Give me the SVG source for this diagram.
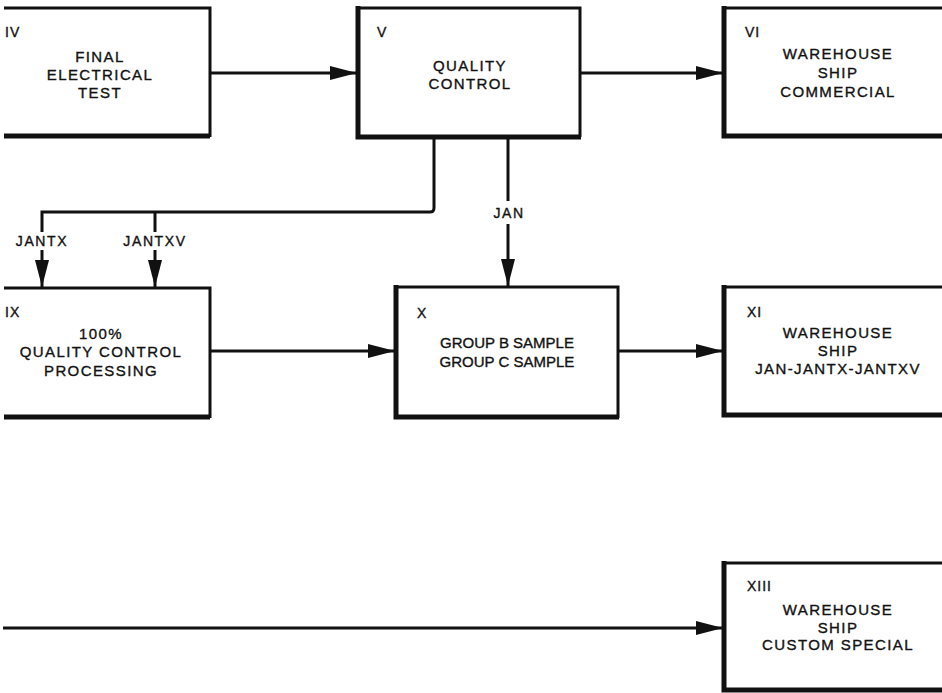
<svg xmlns="http://www.w3.org/2000/svg" width="942" height="693" viewBox="0 0 942 693">
  <defs>
    <marker id="ah" markerUnits="userSpaceOnUse" markerWidth="30" markerHeight="18" refX="27" refY="8" orient="auto">
      <path d="M0,1 L27,8 L0,15 Z" fill="#111"/>
    </marker>
    <style>
      .bg { fill: #fff; }
      .thin { fill: none; stroke: #111; stroke-width: 3; }
      .thick { fill: none; stroke: #111; stroke-width: 5; }
      .wire { fill: none; stroke: #111; stroke-width: 3; }
      .arrow { fill: none; stroke: #111; stroke-width: 3; marker-end: url(#ah); }
      text { font-family: "Liberation Sans", Arial, sans-serif; fill: #111; stroke: #111; stroke-width: 0.35; }
      .num { font-size: 14px; letter-spacing: 1px; }
      .lbl { font-size: 15px; letter-spacing: 1.4px; text-anchor: middle; }
      .tight { font-size: 15px; letter-spacing: 0px; text-anchor: middle; }
      .tag { font-size: 14px; letter-spacing: 1.6px; text-anchor: middle; }
    </style>
  </defs>

  <rect class="bg" width="942" height="693"/>

  <!-- Step IV -->
  <g id="node-iv">
    <path class="thin" d="M4,8 H210 V137"/>
    <path class="thick" d="M4,136 H210"/>
    <text class="num" x="5" y="37">IV</text>
    <text class="lbl" x="100" y="62">FINAL</text>
    <text class="lbl" x="100" y="80">ELECTRICAL</text>
    <text class="lbl" x="100" y="98">TEST</text>
  </g>

  <!-- Step V -->
  <g id="node-v">
    <path class="thin" d="M357,8 H580 V137"/>
    <path class="thick" d="M358,6 V137 H581"/>
    <text class="num" x="377" y="37">V</text>
    <text class="lbl" x="470" y="71">QUALITY</text>
    <text class="lbl" x="470" y="89">CONTROL</text>
  </g>

  <!-- Step VI -->
  <g id="node-vi">
    <path class="thin" d="M723,8 H945"/>
    <path class="thick" d="M724,6 V136 H945"/>
    <text class="num" x="745" y="37">VI</text>
    <text class="lbl" x="838" y="59">WAREHOUSE</text>
    <text class="lbl" x="838" y="78">SHIP</text>
    <text class="lbl" x="838" y="97">COMMERCIAL</text>
  </g>

  <!-- Step IX -->
  <g id="node-ix">
    <path class="thin" d="M4,288 H210 V418"/>
    <path class="thick" d="M4,417 H210"/>
    <text class="num" x="5" y="317">IX</text>
    <text class="lbl" x="101" y="339">100%</text>
    <text class="lbl" x="101" y="357">QUALITY CONTROL</text>
    <text class="lbl" x="101" y="376">PROCESSING</text>
  </g>

  <!-- Step X -->
  <g id="node-x">
    <path class="thin" d="M395,287 H618 V418"/>
    <path class="thick" d="M396,285 V417 H619"/>
    <text class="num" x="417" y="318">X</text>
    <text class="tight" x="507" y="348">GROUP B SAMPLE</text>
    <text class="tight" x="507" y="367">GROUP C SAMPLE</text>
  </g>

  <!-- Step XI -->
  <g id="node-xi">
    <path class="thin" d="M723,287 H945"/>
    <path class="thick" d="M724,285 V415 H945"/>
    <text class="num" x="747" y="317">XI</text>
    <text class="lbl" x="838" y="338">WAREHOUSE</text>
    <text class="lbl" x="838" y="356">SHIP</text>
    <text class="lbl" x="838" y="374">JAN-JANTX-JANTXV</text>
  </g>

  <!-- Step XIII -->
  <g id="node-xiii">
    <path class="thin" d="M723,563 H945"/>
    <path class="thick" d="M724,561 V690 H945"/>
    <text class="num" x="747" y="591">XIII</text>
    <text class="lbl" x="838" y="615">WAREHOUSE</text>
    <text class="lbl" x="838" y="633">SHIP</text>
    <text class="lbl" x="838" y="650">CUSTOM SPECIAL</text>
  </g>

  <!-- Flow lines -->
  <g id="connectors">
    <path class="arrow" d="M210,73 H357"/>
    <path class="arrow" d="M580,73 H723"/>

    <!-- JANTX / JANTXV split from quality control -->
    <path class="wire" d="M434,137 V208 Q434,212 430,212 H42 V232"/>
    <path class="arrow" d="M42,250 V287"/>
    <path class="wire" d="M155,212 V232"/>
    <path class="arrow" d="M155,250 V287"/>
    <text class="tag" x="42" y="246">JANTX</text>
    <text class="tag" x="155" y="246">JANTXV</text>

    <!-- JAN path -->
    <path class="wire" d="M508,137 V201"/>
    <path class="arrow" d="M508,224 V286"/>
    <text class="tag" x="509" y="218">JAN</text>

    <path class="arrow" d="M210,351 H395"/>
    <path class="arrow" d="M618,351 H723"/>

    <path class="arrow" d="M3,628 H723"/>
  </g>
</svg>
